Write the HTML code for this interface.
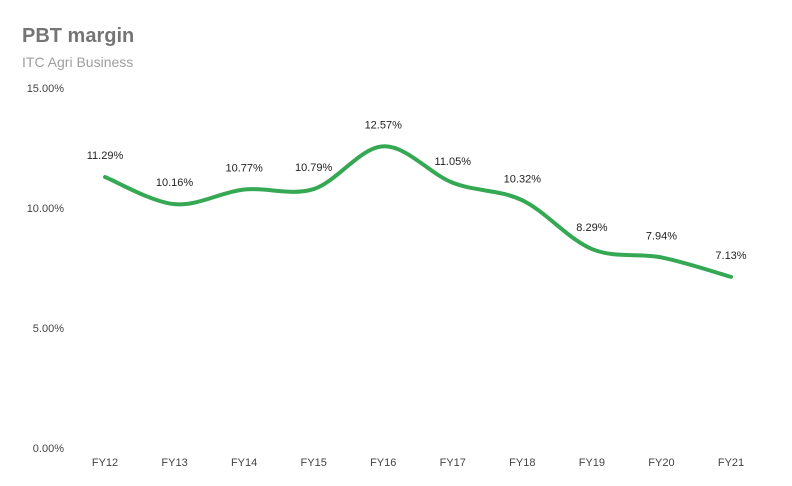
<!DOCTYPE html>
<html>
<head>
<meta charset="utf-8">
<style>
  body { margin: 0; background: #fff; }
  svg { display: block; font-family: "Liberation Sans", Arial, sans-serif; }
</style>
</head>
<body>
<svg id="chart" width="792" height="486" viewBox="0 0 792 486">
  <text x="22" y="42" font-size="20" font-weight="bold" fill="#757575">PBT margin</text>
  <text x="22" y="67" font-size="14" fill="#9e9e9e">ITC Agri Business</text>
  <g id="yaxis"></g>
  <g id="xaxis"></g>
  <g id="series"></g>
</svg>
<script>
const categories = ["FY12","FY13","FY14","FY15","FY16","FY17","FY18","FY19","FY20","FY21"];
const values = [11.29, 10.16, 10.77, 10.79, 12.57, 11.05, 10.32, 8.29, 7.94, 7.13];
const valueLabels = ["11.29%","10.16%","10.77%","10.79%","12.57%","11.05%","10.32%","8.29%","7.94%","7.13%"];
const yTicks = [0, 5, 10, 15];
const yTickLabels = ["0.00%","5.00%","10.00%","15.00%"];

const NS = "http://www.w3.org/2000/svg";
const x0 = 105, x1 = 731, yTop = 88, yBot = 448, yMax = 15;
function xPos(i) { return x0 + i * (x1 - x0) / (categories.length - 1); }
function yPos(v) { return yBot - v / yMax * (yBot - yTop); }
function mk(tag, attrs, parent) {
  const e = document.createElementNS(NS, tag);
  for (const k in attrs) e.setAttribute(k, attrs[k]);
  parent.appendChild(e);
  return e;
}

const yaxis = document.getElementById("yaxis");
yTicks.forEach((t, i) => {
  const tx = mk("text", {x: 64, y: yPos(t) + 4, "font-size": 11, fill: "#444", "text-anchor": "end"}, yaxis);
  tx.textContent = yTickLabels[i];
  
  
});

const xaxis = document.getElementById("xaxis");
categories.forEach((c, i) => {
  const tx = mk("text", {x: xPos(i), y: 466, "font-size": 11, fill: "#444", "text-anchor": "middle"}, xaxis);
  tx.textContent = c;
  
  
});

const series = document.getElementById("series");
const pts = values.map((v, i) => [xPos(i), yPos(v)]);
let d = "M" + pts[0][0] + "," + pts[0][1];
for (let i = 0; i < pts.length - 1; i++) {
  const p0 = pts[Math.max(0, i - 1)], p1 = pts[i], p2 = pts[i + 1], p3 = pts[Math.min(pts.length - 1, i + 2)];
  const t = 1 / 6;
  const c1 = [p1[0] + (p2[0] - p0[0]) * t, p1[1] + (p2[1] - p0[1]) * t];
  const c2 = [p2[0] - (p3[0] - p1[0]) * t, p2[1] - (p3[1] - p1[1]) * t];
  d += " C" + c1[0] + "," + c1[1] + " " + c2[0] + "," + c2[1] + " " + p2[0] + "," + p2[1];
}
const line = mk("path", {d: d, fill: "none", stroke: "#34a853", "stroke-width": 4, "stroke-linejoin": "round", "stroke-linecap": "round"}, series);



values.forEach((v, i) => {
  const tx = mk("text", {x: xPos(i), y: yPos(v) - 18, "font-size": 11, fill: "#222", "text-anchor": "middle"}, series);
  tx.textContent = valueLabels[i];
  
  
});
</script>
</body>
</html>
